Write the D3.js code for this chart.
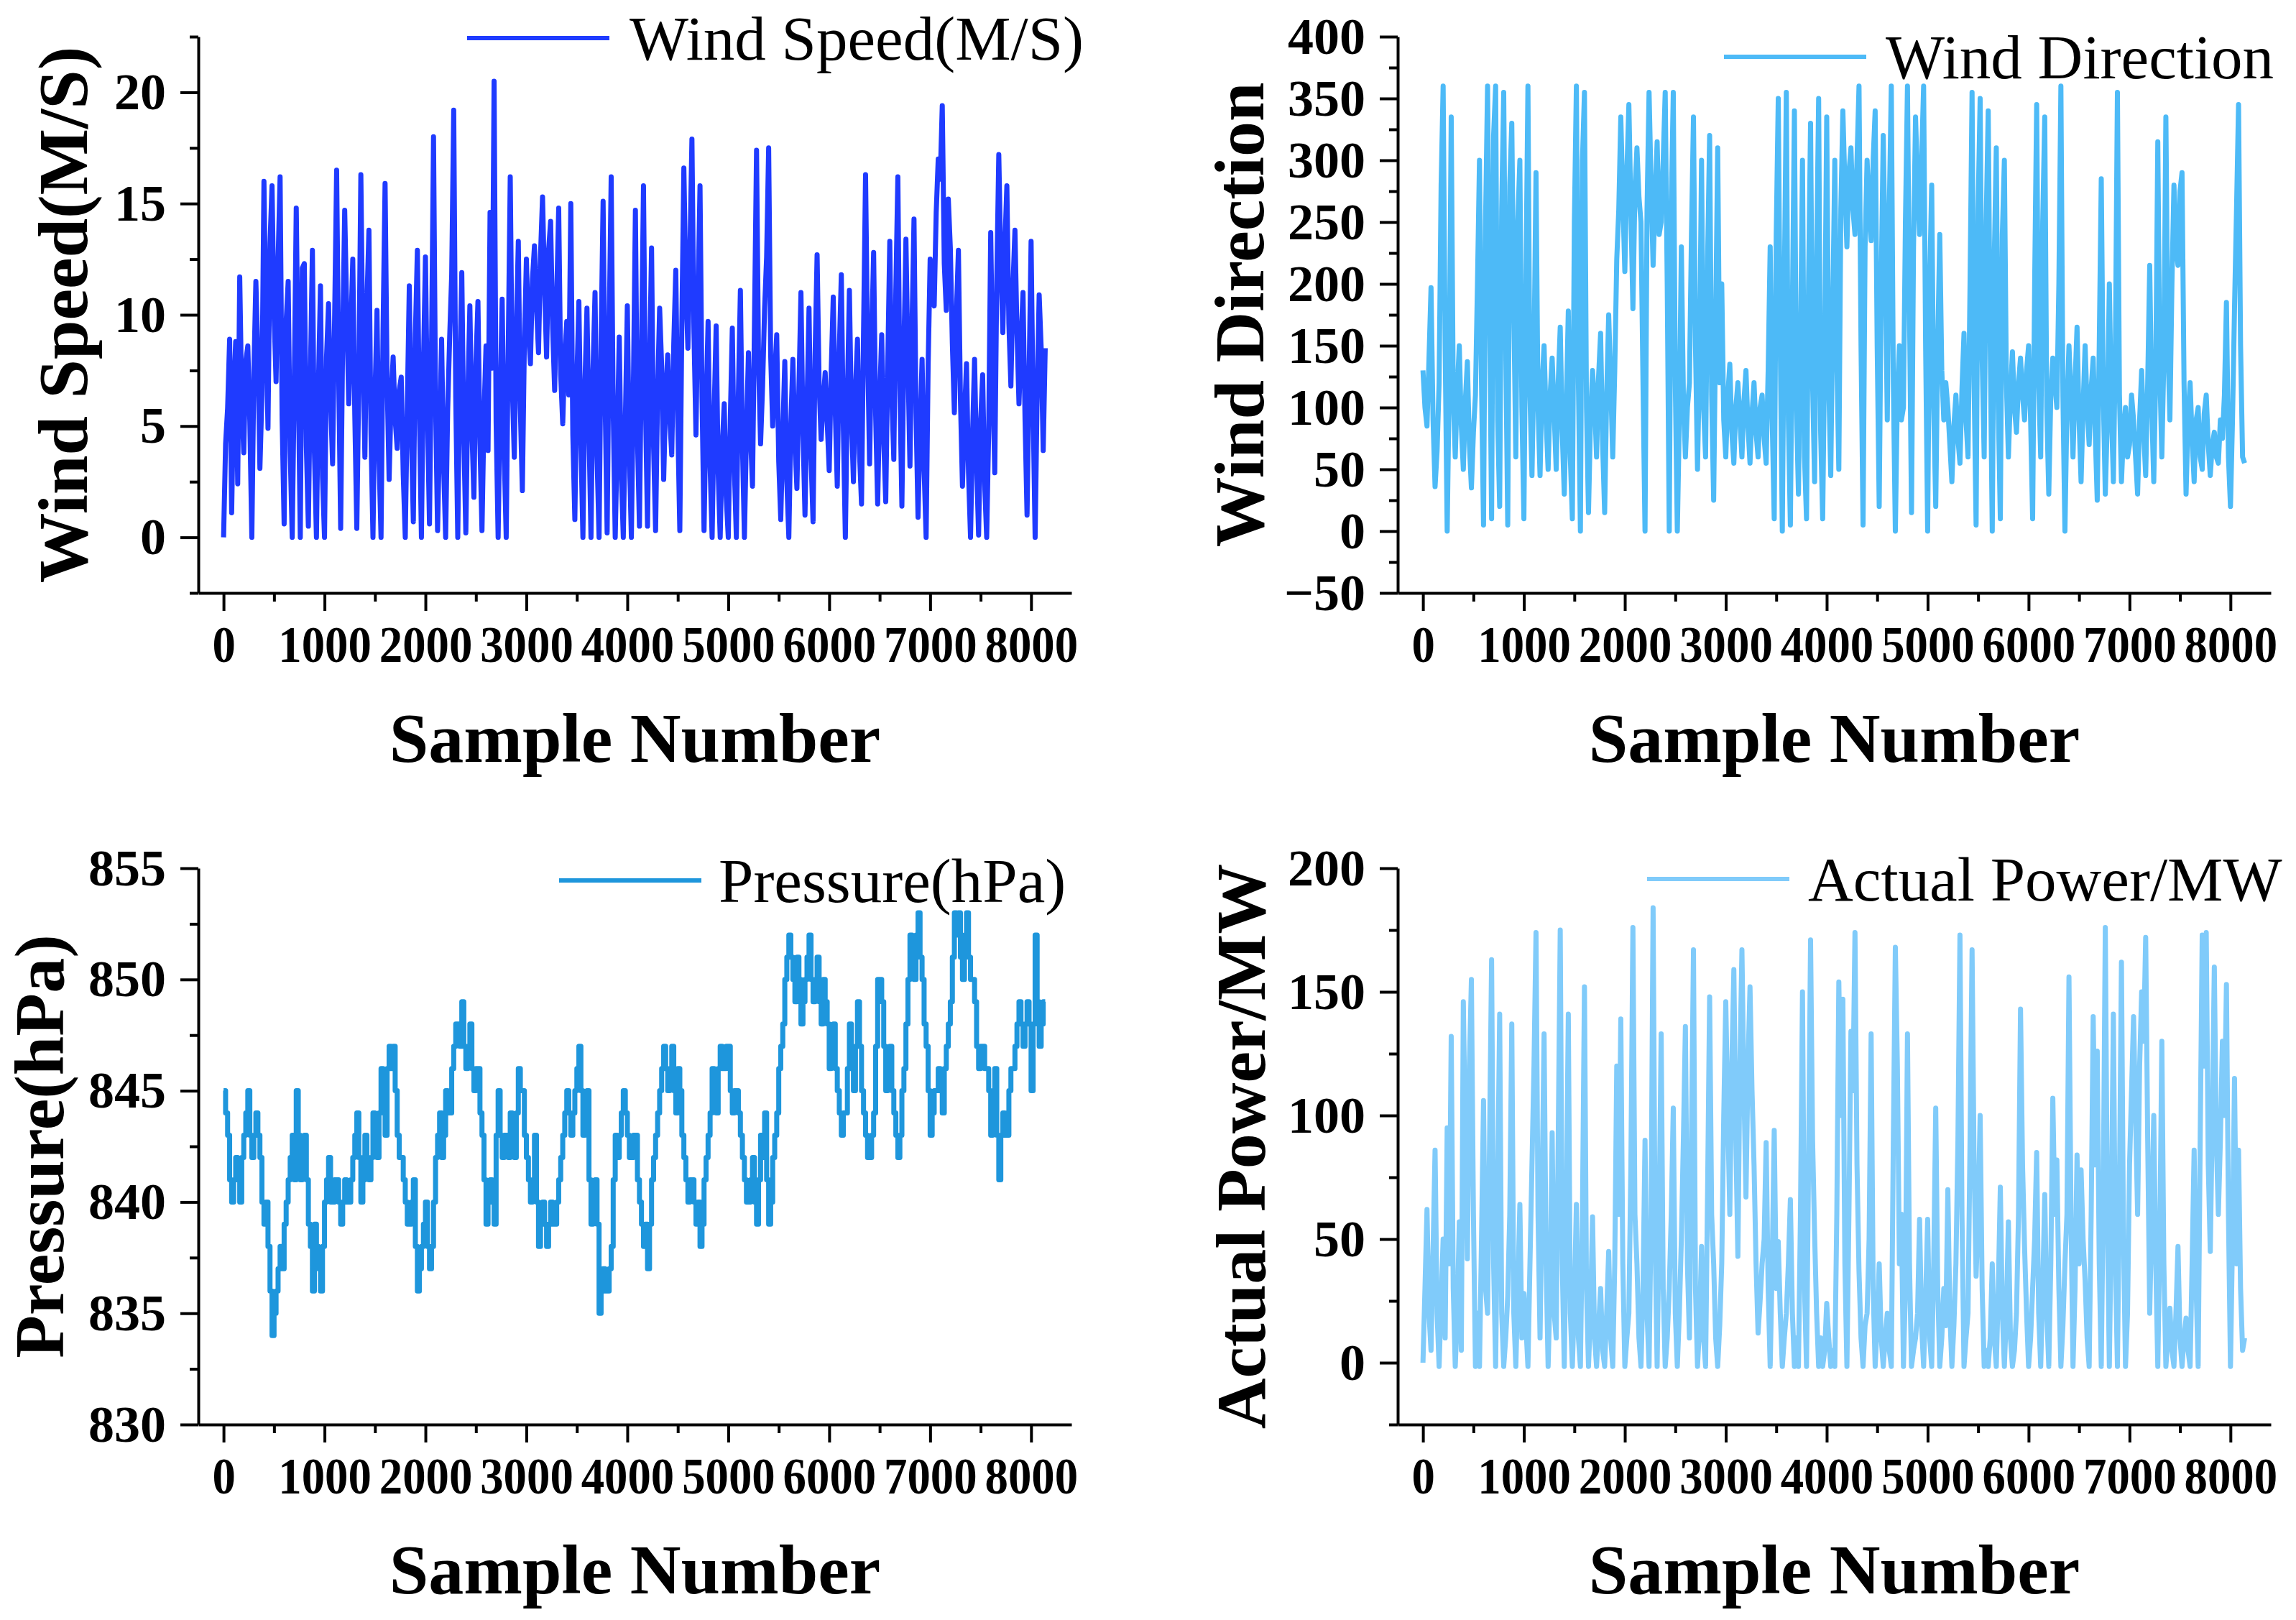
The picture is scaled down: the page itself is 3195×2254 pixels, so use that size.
<!DOCTYPE html>
<html>
<head>
<meta charset="utf-8">
<script src="https://cdn.jsdelivr.net/npm/d3@7"></script>
<style>
  body { margin: 0; background: #fff; }
  svg { display: block; }
  text { font-family: "Liberation Serif", "Times New Roman", serif; }
</style>
</head>
<body>
<svg id="chart" width="3195" height="2254"></svg>
<script>
// sample index of every stored reading (one reading kept every 20 samples)
const sampleNumbers = d3.range(0, 8160, 20);
const xTicks = [0, 1000, 2000, 3000, 4000, 5000, 6000, 7000, 8000];
const xMinorTicks = [500, 1500, 2500, 3500, 4500, 5500, 6500, 7500];

const windSpeed = [
  0, 4.2, 5.8, 8.9, 1.1, 6.5, 8.8, 2.4, 11.7, 6.1, 3.8, 7.9, 8.6, 5.2, 0, 7.4, 11.5, 8.2, 3.1, 6.4,
  16.0, 9.5, 4.9, 13.2, 15.8, 10.1, 7, 12.4, 16.2, 5.3, 0.6, 9.7, 11.5, 3.9, 0, 6.8, 14.8, 7.2, 0, 12.1,
  12.3, 4.1, 0.5, 7.3, 12.9, 3.8, 0, 6.9, 11.3, 2.7, 0, 8.1, 10.5, 6.2, 3.3, 9.8, 16.5, 7.5, 0.4, 8.9,
  14.7, 10.2, 6, 9.1, 12.5, 5.5, 0.4, 7.2, 16.3, 8.4, 3.6, 10.5, 13.8, 4.7, 0, 6.3, 10.2, 3.6, 0, 9.3,
  15.9, 7.1, 2.6, 6.2, 8.1, 5.3, 4, 6.6, 7.2, 2.8, 0, 5.9, 11.3, 4.8, 0.7, 9.1, 12.9, 5.6, 0, 7.7,
  12.6, 5.4, 0.6, 8.5, 18.0, 6.1, 0.3, 4.6, 8.9, 3.2, 0, 5.7, 9, 11.8, 19.2, 6.3, 0, 7.4, 11.9, 4.5,
  0.2, 6.3, 10.4, 4.9, 1.8, 7.8, 10.6, 4.2, 0.3, 5.5, 8.6, 3.9, 14.6, 7.6, 20.5, 5.2, 0, 6.1, 10.7, 3.8,
  0, 8.4, 16.2, 6.9, 3.6, 9.2, 13.3, 5.8, 2.1, 8.7, 12.5, 9.3, 7.8, 11.6, 13.1, 10.4, 8.3, 12.7, 15.3, 11.2,
  8.1, 12.9, 14.2, 9.4, 6.6, 10.8, 14.8, 7.3, 5.1, 8.2, 9.7, 6.4, 15, 4.6, 0.8, 7.1, 10.6, 4.3, 0, 6.9,
  10.3, 4.8, 0, 7.5, 11, 3.6, 0, 8.8, 15.1, 6.2, 0.2, 9.4, 16.2, 5.7, 0, 4.3, 9, 2.9, 0, 5.1,
  10.4, 3.7, 0, 6.8, 14.7, 4.5, 0.5, 8.3, 15.8, 5.9, 0.5, 7.6, 13, 4.1, 0.3, 6.5, 10.3, 7.7, 2.6, 6.3,
  8.2, 5.4, 3.7, 8.7, 12, 5.1, 0.3, 9.6, 16.6, 11.3, 8.5, 12.8, 17.9, 9.2, 4.6, 10.7, 15.8, 6.3, 0.3, 5.8,
  9.7, 3.2, 0, 5.6, 9.5, 2.9, 0, 4.1, 6, 1.8, 0, 5.3, 9.4, 3.1, 0, 6.4, 11.1, 4.2, 0, 4.7,
  8.3, 4.6, 2.3, 9.8, 17.4, 7.9, 4.2, 6.8, 10.3, 12.6, 17.5, 8.2, 5, 7.3, 9.1, 3.4, 0.8, 4.6, 7.9, 2.5,
  0, 5.1, 8, 4.3, 2.2, 6.7, 11, 4.8, 1, 5.9, 10.3, 3.6, 0.7, 8.2, 12.7, 6.9, 4.4, 6.1, 7.4, 5.2,
  3, 7.5, 10.8, 5.7, 2.3, 8.4, 11.8, 4.9, 0, 6.3, 11.1, 5.4, 2.5, 6.6, 8.9, 3.8, 1.5, 9.2, 16.3, 8.6,
  3.3, 8.8, 12.8, 5.5, 1.5, 6.2, 9.1, 4.4, 1.6, 7.8, 13.3, 6.4, 3.5, 11.1, 16.2, 6.7, 1.4, 8.5, 13.4, 7.9,
  3.2, 9.4, 14.3, 5.6, 0.9, 4.8, 8, 3.1, 0, 7.7, 12.5, 10.8, 10.4, 14.6, 17, 16.1, 19.4, 12.3, 10.2, 15.2,
  13, 8.7, 5.6, 10.1, 12.9, 6.2, 2.3, 5.4, 7.8, 2.9, 0, 4.6, 8, 3.3, 0.1, 5.2, 7.3, 2.4, 0, 4.8,
  13.7, 7.4, 2.9, 11.6, 17.2, 12.4, 9.2, 13.1, 15.8, 9.6, 6.8, 11.2, 13.8, 9.3, 6, 8.8, 11, 5.3, 1, 7.2,
  13.3, 5.8, 0, 6.4, 10.9, 8.5, 3.9, 8.5
];

const windDirection = [
  130, 100, 85, 140, 197, 90, 36, 65, 120, 280, 360, 150, 0, 120, 335, 110, 60, 115, 150, 85,
  50, 105, 137, 70, 35, 80, 110, 200, 300, 120, 5, 250, 360, 180, 10, 320, 360, 90, 20, 260,
  355, 150, 5, 280, 330, 180, 60, 250, 300, 100, 10, 200, 360, 110, 45, 140, 290, 100, 45, 120,
  150, 90, 50, 110, 140, 95, 50, 120, 165, 80, 30, 100, 178, 60, 10, 250, 360, 120, 0, 300,
  355, 100, 15, 90, 130, 105, 60, 125, 160, 70, 15, 110, 175, 120, 60, 130, 220, 260, 335, 270,
  210, 290, 345, 260, 180, 275, 310, 270, 250, 120, 0, 260, 355, 280, 215, 270, 315, 240, 250, 300,
  355, 200, 0, 260, 355, 120, 0, 90, 230, 110, 60, 100, 120, 240, 335, 150, 50, 140, 300, 100,
  60, 220, 320, 110, 25, 170, 310, 120, 200, 90, 60, 110, 135, 80, 55, 100, 120, 90, 60, 105,
  130, 85, 55, 95, 120, 80, 60, 100, 110, 75, 55, 130, 230, 90, 10, 240, 350, 150, 0, 200,
  355, 90, 5, 180, 340, 100, 30, 150, 300, 60, 10, 200, 330, 120, 40, 220, 350, 80, 10, 150,
  335, 120, 45, 180, 300, 140, 50, 260, 340, 280, 230, 290, 310, 260, 240, 300, 360, 150, 5, 230,
  300, 260, 235, 300, 340, 150, 20, 200, 320, 220, 90, 260, 360, 120, 0, 110, 150, 90, 100, 250,
  360, 180, 15, 230, 335, 280, 240, 300, 360, 150, 0, 200, 280, 100, 20, 150, 240, 130, 90, 120,
  100, 70, 40, 85, 110, 75, 55, 115, 160, 90, 60, 200, 355, 120, 5, 260, 350, 140, 60, 250,
  340, 150, 0, 220, 310, 100, 10, 240, 300, 120, 60, 110, 145, 100, 80, 120, 140, 110, 90, 130,
  150, 90, 10, 200, 345, 120, 60, 250, 335, 100, 30, 110, 140, 120, 100, 200, 360, 110, 0, 100,
  150, 110, 60, 120, 165, 90, 40, 100, 150, 100, 70, 115, 140, 80, 25, 150, 285, 110, 30, 90,
  200, 100, 40, 150, 355, 110, 40, 80, 100, 60, 70, 110, 90, 60, 30, 90, 130, 80, 45, 120,
  215, 100, 40, 130, 315, 130, 60, 140, 335, 150, 90, 200, 280, 230, 215, 275, 290, 120, 30, 90,
  120, 75, 40, 90, 100, 60, 50, 95, 110, 70, 45, 70, 80, 60, 55, 90, 75, 110, 185, 60,
  20, 90, 180, 260, 345, 150, 60, 55
];

const pressure = [
  845, 844, 843, 841, 840, 841, 842, 841, 840, 842, 843, 844, 845, 843, 842, 843, 844, 843, 842, 840,
  839, 840, 838, 836, 834, 835, 836, 837, 838, 837, 839, 840, 841, 842, 843, 841, 845, 843, 841, 842,
  843, 841, 839, 838, 836, 839, 838, 837, 836, 838, 840, 841, 842, 840, 840, 841, 841, 840, 839, 840,
  841, 840, 840, 841, 842, 843, 844, 842, 840, 841, 843, 842, 841, 842, 844, 843, 842, 844, 846, 845,
  843, 846, 847, 846, 847, 845, 843, 842, 842, 841, 840, 839, 839, 840, 841, 838, 836, 837, 838, 839,
  840, 838, 837, 838, 840, 842, 843, 844, 842, 843, 845, 844, 844, 846, 847, 848, 848, 847, 849, 847,
  846, 847, 848, 846, 845, 846, 846, 844, 843, 841, 839, 840, 841, 840, 839, 843, 845, 843, 842, 843,
  843, 842, 844, 843, 842, 844, 846, 845, 845, 843, 842, 841, 840, 841, 843, 840, 838, 839, 840, 839,
  838, 839, 840, 839, 839, 840, 841, 842, 843, 844, 845, 844, 843, 844, 845, 846, 847, 845, 843, 844,
  845, 841, 839, 840, 841, 839, 835, 836, 837, 836, 836, 837, 838, 841, 843, 842, 843, 844, 845, 844,
  843, 842, 842, 843, 843, 841, 840, 839, 838, 839, 837, 839, 841, 842, 843, 844, 845, 846, 847, 846,
  845, 846, 847, 845, 844, 846, 845, 843, 842, 841, 840, 841, 841, 840, 839, 840, 838, 839, 841, 842,
  843, 844, 846, 845, 844, 846, 847, 846, 846, 847, 847, 845, 844, 845, 845, 844, 843, 842, 841, 840,
  840, 841, 842, 840, 839, 841, 843, 842, 844, 841, 839, 840, 842, 843, 844, 846, 847, 848, 850, 851,
  852, 851, 850, 849, 851, 850, 848, 849, 850, 851, 852, 850, 849, 850, 851, 849, 848, 850, 849, 848,
  846, 847, 848, 846, 845, 844, 843, 844, 844, 846, 848, 846, 845, 847, 849, 847, 845, 844, 843, 842,
  842, 843, 844, 847, 850, 850, 849, 847, 845, 846, 847, 845, 844, 843, 842, 843, 845, 846, 848, 850,
  852, 851, 850, 852, 853, 851, 850, 848, 847, 845, 843, 844, 845, 845, 846, 845, 844, 846, 847, 848,
  849, 851, 853, 852, 853, 851, 850, 852, 853, 851, 850, 850, 849, 847, 846, 847, 847, 846, 846, 845,
  843, 845, 846, 843, 841, 843, 844, 843, 843, 845, 846, 846, 847, 848, 849, 848, 847, 848, 849, 848,
  845, 848, 852, 849, 847, 848, 849, 849
];

const actualPower = [
  0, 30, 62, 20, 5, 45, 86, 20, -1.5, 25, 50, 10, 95, 40, 132, 30, -1.5, 20, 57, 5,
  146, 90, 42, 120, 155, 60, -1.5, 20, -1.5, 50, 106, 30, 20, 90, 163, 40, -1.5, 70, 141, 20,
  -1.5, 10, 27, 60, 137, 20, -1.5, 30, 64, 10, 28, 15, -1.5, 40, 80, 120, 174, 60, 10, 70,
  133, 40, -1.5, 30, 93, 20, 10, 90, 175, 40, -1.5, 60, 141, 20, -1.5, 25, 64, 10, -1.5, 60,
  152, 30, -1.5, 20, 59, 10, -1.5, 15, 30, 5, -1.5, 20, 45, 10, -1.5, 40, 120, 60, 139, 40,
  -1.5, 10, 20, 80, 176, 60, 40, 10, -1.5, 30, 90, 20, -1.5, 60, 184, 50, -1.5, 60, 133, 30,
  -1.5, 10, 30, 60, 103, 20, -1.5, 20, 50, 90, 136, 40, 10, 90, 167, 30, -1.5, 15, 47, 10,
  -1.5, 70, 148, 60, 40, 10, -1.5, 15, 40, 100, 146, 100, 60, 120, 159, 90, 43, 120, 167, 110,
  67, 120, 152, 110, 80, 40, 12, 25, 40, 50, 89, 30, -1.5, 40, 94, 30, 49, 20, -1.5, 10,
  20, 40, 66, 20, -1.5, 10, -1.5, 60, 150, 30, -1.5, 80, 171, 90, 52, 20, -1.5, 10, -1.5, 5,
  24, 10, -1.5, 5, -1.5, 60, 154, 100, 147, 40, -1.5, 60, 134, 110, 174, 80, 37, 10, -1.5, 15,
  20, 50, 133, 30, -1.5, 15, 40, 10, -1.5, 10, 20, 5, -1.5, 90, 168, 120, 40, 60, -1.5, 30,
  133, 40, -1.5, 5, 10, 20, 58, 15, -1.5, 25, 58, 10, -1.5, 40, 103, 30, -1.5, 10, 30, 15,
  70, 20, -1.5, 15, 40, 90, 173, 60, -1.5, 10, 20, 90, 167, 80, 35, 60, 100, 30, -1.5, 5,
  -1.5, 10, 40, 10, -1.5, 30, 71, 20, -1.5, 20, 57, 10, -1.5, 5, 20, 60, 143, 80, 47, 20,
  -1.5, 10, 30, 50, 85, 20, -1.5, 30, 68, 20, -1.5, 40, 107, 60, 82, 30, -1.5, 15, 40, 60,
  156, 60, -1.5, 30, 84, 40, 78, 50, 33, 10, -1.5, 60, 140, 80, 126, 40, -1.5, 70, 176, 60,
  -1.5, 60, 141, 40, -1.5, 70, 162, 50, -1.5, 20, 80, 110, 140, 100, 60, 120, 150, 130, 172, 90,
  20, 60, 100, 40, -1.5, 50, 130, 40, -1.5, 10, 22, 5, -1.5, 20, 47, 10, -1.5, 10, 18, 5,
  -1.5, 40, 86, 30, -1.5, 90, 173, 120, 174, 80, 45, 100, 160, 90, 60, 90, 130, 100, 153, 60,
  -1.5, 50, 115, 40, 86, 30, 5, 10
];

// panel setup (layout in page pixels)
const plotW = 1215, plotH = 774;
const panels = [
  { values: windSpeed, color: "#1F3BFF", yDomain: [-2.5, 22.5],
    yTicks: [0, 5, 10, 15, 20], yMinor: [-2.5, 2.5, 7.5, 12.5, 17.5, 22.5],
    yTitle: "Wind Speed(M/S)", legend: "Wind Speed(M/S)",
    left: 276, top: 51, titleOffset: -155,
    legX: 650, legY: 53, legText: 876, legBase: 83 },
  { values: windDirection, color: "#4DBAF7", yDomain: [-50, 400],
    yTicks: [-50, 0, 50, 100, 150, 200, 250, 300, 350, 400],
    yMinor: [-25, 25, 75, 125, 175, 225, 275, 325, 375],
    yTitle: "Wind Direction", legend: "Wind Direction",
    left: 1945, top: 51, titleOffset: -187,
    legX: 2399, legY: 79, legText: 2624, legBase: 109 },
  { values: pressure, color: "#1E96DC", yDomain: [830, 855], step: true,
    yTicks: [830, 835, 840, 845, 850, 855], yMinor: [832.5, 837.5, 842.5, 847.5, 852.5],
    yTitle: "Pressure(hPa)", legend: "Pressure(hPa)",
    left: 276, top: 1208, titleOffset: -188,
    legX: 778, legY: 1225, legText: 1000, legBase: 1255 },
  { values: actualPower, color: "#80CBFA", yDomain: [-25, 200],
    yTicks: [0, 50, 100, 150, 200], yMinor: [-25, 25, 75, 125, 175],
    yTitle: "Actual Power/MW", legend: "Actual Power/MW",
    left: 1945, top: 1208, titleOffset: -185,
    legX: 2292, legY: 1223, legText: 2516, legBase: 1253 }
];

const svg = d3.select("#chart");

panels.forEach(p => {
  const x = d3.scaleLinear().domain([-250, 8400]).range([0, plotW]);
  const y = d3.scaleLinear().domain(p.yDomain).range([plotH, 0]);

  const g = svg.append("g").attr("transform", `translate(${p.left},${p.top})`);

  const line = d3.line()
    .x((d, i) => x(sampleNumbers[i]))
    .y(d => y(d))
    .curve(p.step ? d3.curveStepAfter : d3.curveLinear);

  g.append("path")
    .datum(p.values)
    .attr("fill", "none")
    .attr("stroke", p.color)
    .attr("stroke-width", 7)
    .attr("stroke-linejoin", "round")
    .attr("d", line);

  // minor ticks
  g.append("g")
    .attr("transform", `translate(0,${plotH})`)
    .call(d3.axisBottom(x).tickValues(xMinorTicks).tickSize(12).tickSizeOuter(0).tickFormat(""))
    .call(a => a.select(".domain").remove())
    .call(a => a.selectAll("line").attr("stroke-width", 4));
  g.append("g")
    .call(d3.axisLeft(y).tickValues(p.yMinor).tickSize(12).tickSizeOuter(0).tickFormat(""))
    .call(a => a.select(".domain").remove())
    .call(a => a.selectAll("line").attr("stroke-width", 4));

  // major axes
  const xAxis = g.append("g")
    .attr("transform", `translate(0,${plotH})`)
    .call(d3.axisBottom(x).tickValues(xTicks).tickSize(25).tickSizeOuter(0)
      .tickPadding(20).tickFormat(d3.format("d")));
  const yAxis = g.append("g")
    .call(d3.axisLeft(y).tickValues(p.yTicks).tickSize(25).tickSizeOuter(0).tickPadding(20));

  [xAxis, yAxis].forEach(a => {
    a.select(".domain").attr("stroke-width", 4);
    a.selectAll(".tick line").attr("stroke-width", 4);
    a.selectAll("text")
      .attr("font-family", "'Liberation Serif', 'Times New Roman', serif")
      .attr("font-size", 72)
      .attr("font-weight", "bold")
      .attr("fill", "#000");
  });
  // the x labels are set a little narrower, as in the source figure
  xAxis.selectAll("text").attr("transform", "scale(0.9,1)");
  yAxis.selectAll("text").text(d => d < 0 ? "\u2212" + Math.abs(d) : d);

  // axis titles
  g.append("text")
    .attr("x", plotW / 2)
    .attr("y", plotH + 235)
    .attr("text-anchor", "middle")
    .attr("font-size", 98)
    .attr("font-weight", "bold")
    .text("Sample Number");

  g.append("text")
    .attr("transform", `translate(${p.titleOffset},${plotH / 2}) rotate(-90)`)
    .attr("text-anchor", "middle")
    .attr("font-size", 98)
    .attr("font-weight", "bold")
    .text(p.yTitle);

  // legend
  svg.append("line")
    .attr("x1", p.legX).attr("x2", p.legX + 198)
    .attr("y1", p.legY).attr("y2", p.legY)
    .attr("stroke", p.color)
    .attr("stroke-width", 6);
  svg.append("text")
    .attr("x", p.legText)
    .attr("y", p.legBase)
    .attr("font-size", 87)
    .text(p.legend);
});
</script>
</body>
</html>
